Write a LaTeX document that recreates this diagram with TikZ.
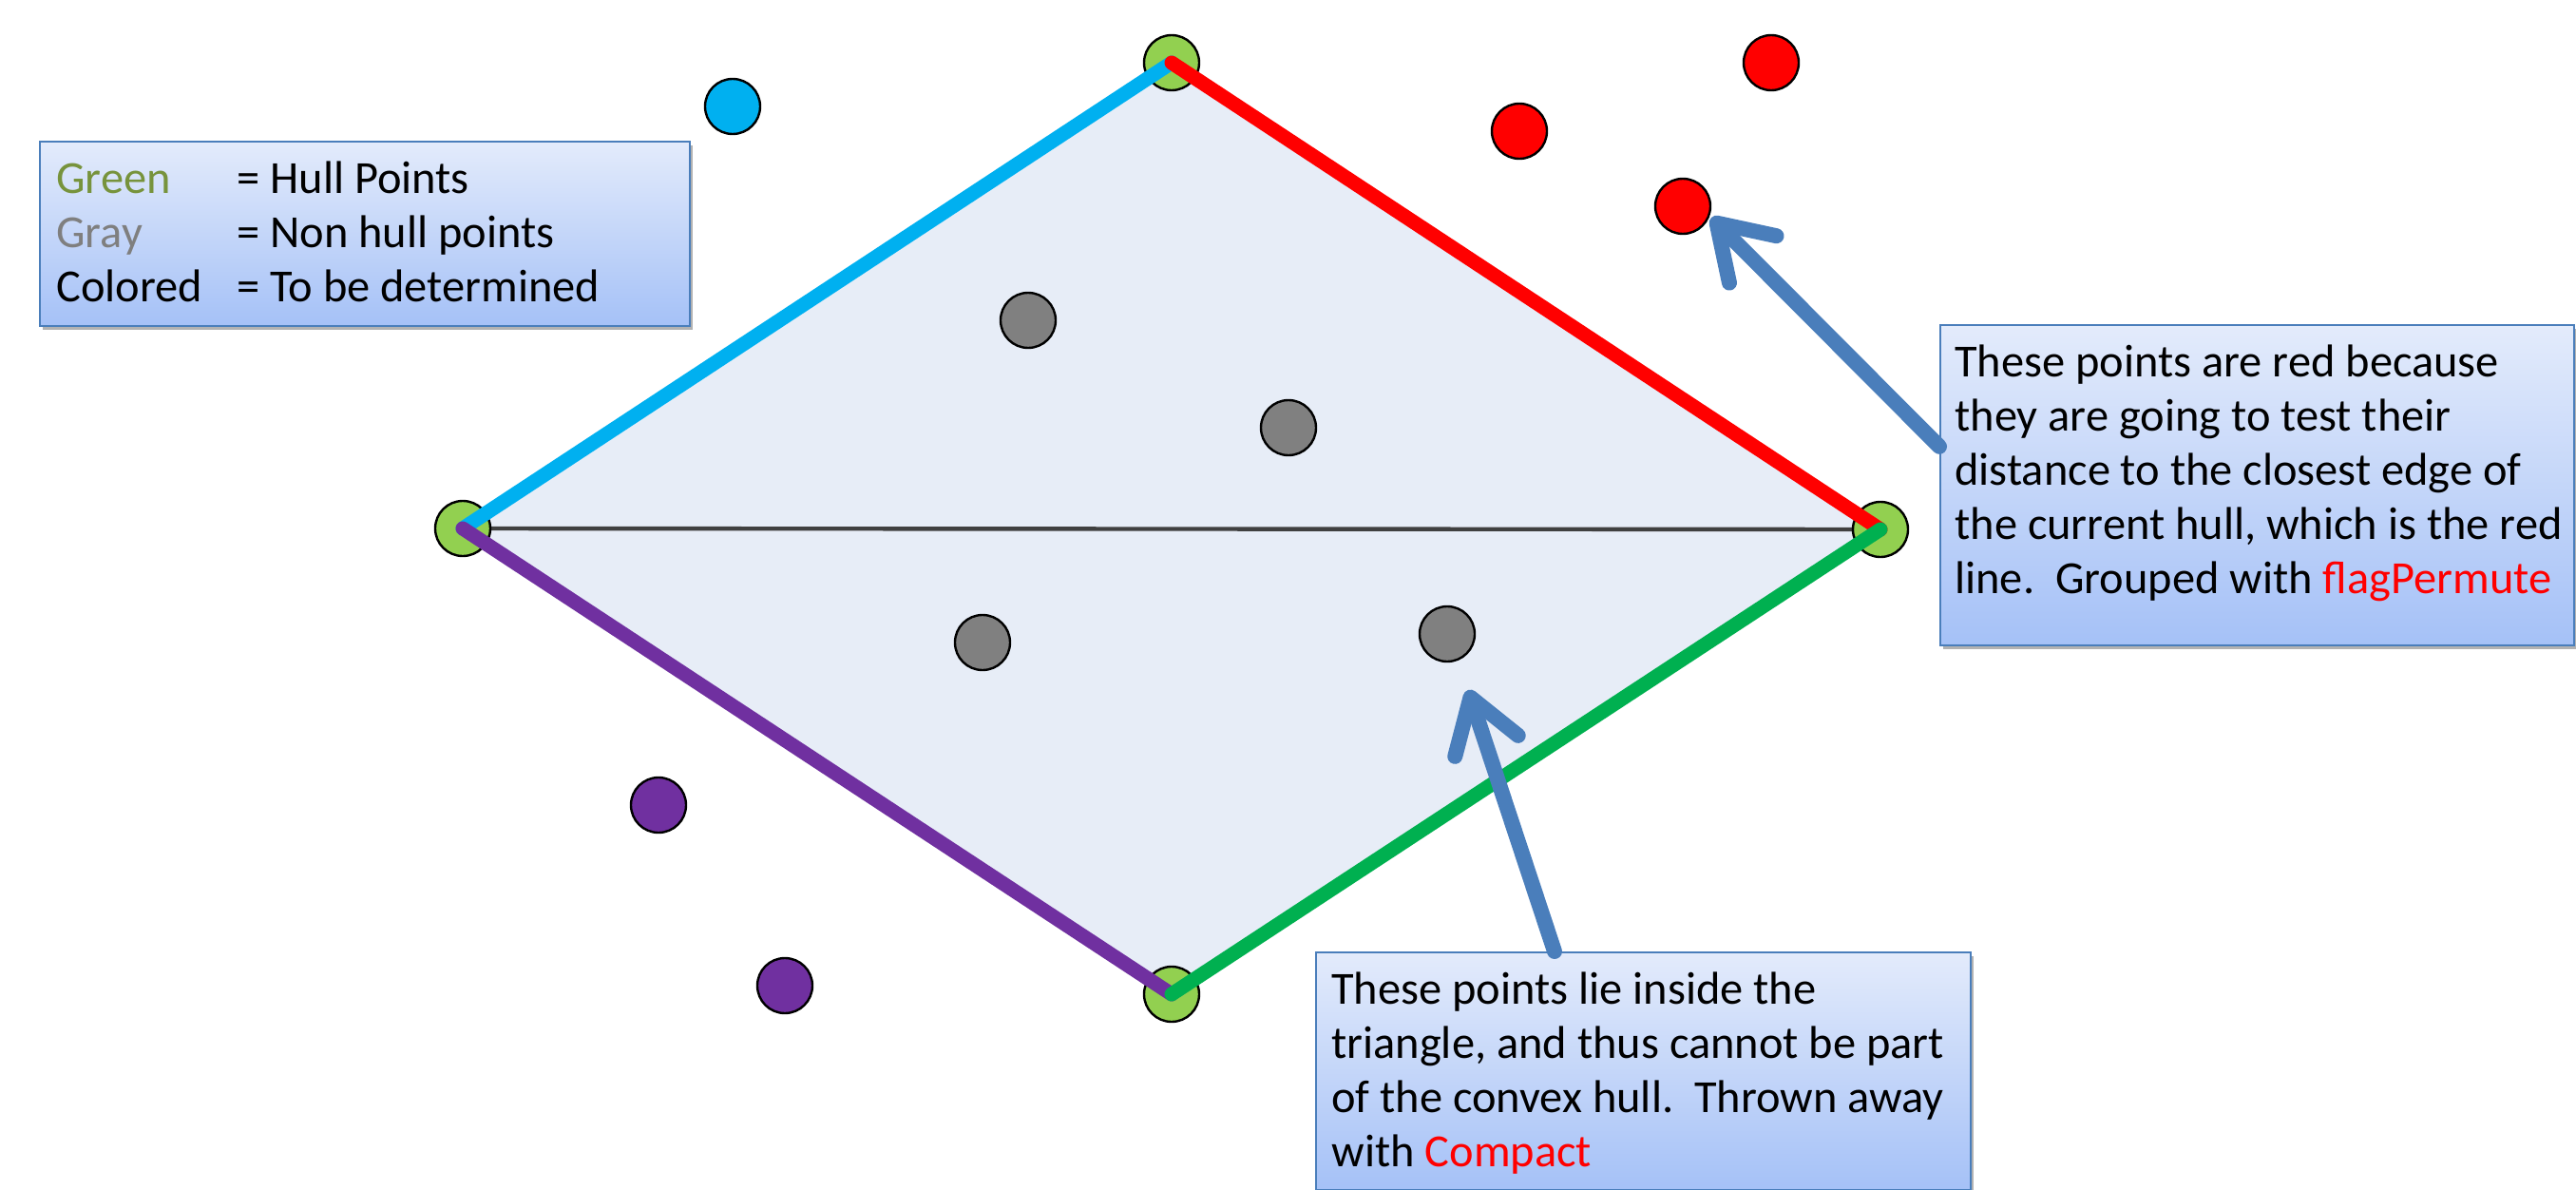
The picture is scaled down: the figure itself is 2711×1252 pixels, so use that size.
\documentclass[tikz,border=0pt]{standalone}
\usepackage{fontspec}
\setmainfont{Carlito}
\usetikzlibrary{arrows.meta,shadows,calc}
\definecolor{hullfill}{HTML}{E7EDF7}
\definecolor{ptgreen}{HTML}{92D050}
\definecolor{ptgray}{HTML}{808080}
\definecolor{ptred}{HTML}{FF0000}
\definecolor{ptblue}{HTML}{00B0F0}
\definecolor{ptpurple}{HTML}{7030A0}
\definecolor{lngreen}{HTML}{00B050}
\definecolor{callblue}{HTML}{4A7EBB}
\definecolor{boxtop}{HTML}{E3EBFB}
\definecolor{boxbot}{HTML}{A5C1F7}
\definecolor{txtgreen}{HTML}{77933C}
\definecolor{txtgray}{HTML}{7F7F7F}
\begin{document}
\begin{tikzpicture}[x=0.5pt,y=-0.5pt,
  pt/.style={circle, draw=black, line width=1.2pt, minimum size=29pt, inner sep=0pt},
  hull/.style={line width=7.5pt, line cap=round},
  callbox/.style={rectangle, draw=callblue, line width=1pt, top color=boxtop, bottom color=boxbot,
     anchor=north west, inner sep=0pt,
     drop shadow={shadow xshift=1.5pt, shadow yshift=-2pt, opacity=0.3, fill=black}},
  txt/.style={anchor=north west, inner sep=0pt, align=left, font=\fontsize{24.2}{28.5}\selectfont},
  callarrow/.style={draw=callblue, line width=8pt, line cap=round,
     -{Straight Barb[length=27pt, width=35pt, round]}}
]
\useasboundingbox (0,0) rectangle (2711,1252);
% hull geometry
\coordinate (cT) at (1233,66);
\coordinate (cL) at (487,556);
\coordinate (cR) at (1979,557);
\coordinate (cB) at (1233,1046);
\fill[hullfill] (cL) -- (cT) -- (cR) -- (cB) -- cycle;
\draw[line width=2.2pt, draw=black!75] (cL) -- (cR);
% hull points
\node[pt, fill=ptgreen] (pT) at (cT) {};
\node[pt, fill=ptgreen] (pL) at (cL) {};
\node[pt, fill=ptgreen] (pR) at (cR) {};
\node[pt, fill=ptgreen] (pB) at (cB) {};
% other points
\node[pt, fill=ptblue] (b1) at (771,112) {};
\node[pt, fill=ptred] (r1) at (1864,66) {};
\node[pt, fill=ptred] (r2) at (1599,138) {};
\node[pt, fill=ptred] (r3) at (1771,217) {};
\node[pt, fill=ptgray] (g1) at (1082,337) {};
\node[pt, fill=ptgray] (g2) at (1356,450) {};
\node[pt, fill=ptgray] (g3) at (1034,676) {};
\node[pt, fill=ptgray] (g4) at (1523,667) {};
\node[pt, fill=ptpurple] (u1) at (693,847) {};
\node[pt, fill=ptpurple] (u2) at (826,1037) {};
% hull edges
\draw[hull, ptblue] (pL.center) -- (pT.center);
\draw[hull, ptred] (pT.center) -- (pR.center);
\draw[hull, ptpurple] (pB.center) -- (pL.center);
\draw[hull, lngreen] (pR.center) -- (pB.center);
% legend
\node[callbox, minimum width=342pt, minimum height=97pt] (legend) at (41,148) {};
\node[txt] (legtext) at (59,169) {%
  \makebox[95pt][l]{\color{txtgreen}Green}= Hull Points\\
  \makebox[95pt][l]{\color{txtgray}Gray}= Non hull points\\
  \makebox[95pt][l]{Colored}= To be determined};
% right callout
\node[callbox, minimum width=333.5pt, minimum height=168.5pt] (rbox) at (2041,341) {};
\node[txt] (rtext) at (2057,362) {These points are red because\\
  they are going to test their\\
  distance to the closest edge of\\
  the current hull, which is the red\\
  line.\ \ Grouped with \textcolor{ptred}{flagPermute}};
% bottom callout
\node[callbox, minimum width=344.5pt, minimum height=125pt] (bbox) at (1384,1001) {};
\node[txt] (btext) at (1401,1022) {These points lie inside the\\
  triangle, and thus cannot be part\\
  of the convex hull.\ \ Thrown away\\
  with \textcolor{ptred}{Compact}};
% arrows
\coordinate (a1s) at ($(rbox.north west)!0.38!(rbox.south west)$);
\coordinate (a1t) at (1801,229);
\coordinate (a2s) at (1636,1001);
\coordinate (a2t) at (1545,726);
\draw[callarrow] (a1s) -- (a1t);
\draw[callarrow] (a2s) -- (a2t);
\end{tikzpicture}
\end{document}
